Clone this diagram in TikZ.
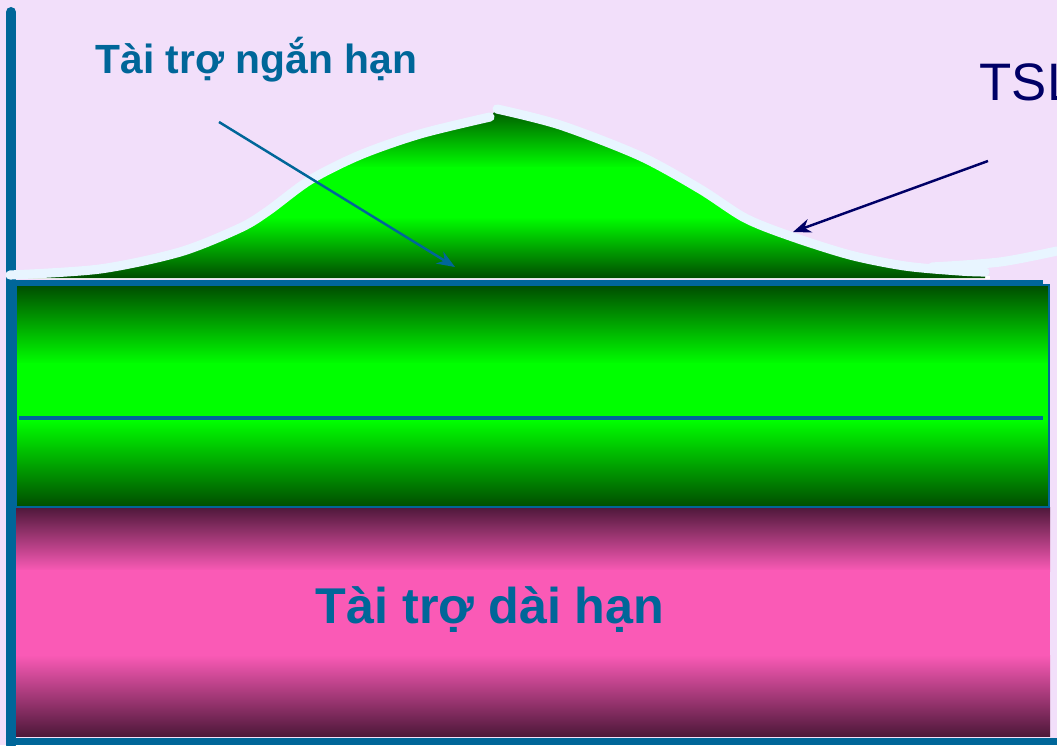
\documentclass[tikz,border=0pt]{standalone}
\usepackage{fontspec}
\setmainfont{Liberation Sans}
\usetikzlibrary{arrows.meta}
\definecolor{nen}{RGB}{242,223,250}
\definecolor{xanhtruc}{RGB}{0,102,153}
\definecolor{xanhtham}{RGB}{0,0,102}
\definecolor{viensang}{RGB}{232,245,255}
\definecolor{lucdam}{RGB}{0,76,0}
\definecolor{lucsang}{RGB}{0,255,0}
\definecolor{hongdam}{RGB}{78,24,58}
\definecolor{hongsang}{RGB}{250,90,182}

\begin{document}
\begin{tikzpicture}[x=0.01cm, y=-0.01cm,
    lucxuong/.style={top color=lucdam, bottom color=lucsang},
    lucle/.style={top color=lucsang, bottom color=lucdam},
    hongxuong/.style={top color=hongdam, bottom color=hongsang},
    hongle/.style={top color=hongsang, bottom color=hongdam},
    duongsang/.style={viensang, line width=2.6pt, line cap=round},
    muiten/.style={-{Stealth[length=1.8mm, width=1.4mm]}, line width=0.7pt}]
    \useasboundingbox[fill=nen] (0,0) rectangle (1057,745);
    % tai tro dai han (hong)
    \shade[hongxuong] (16,507) rectangle (1050,571);
    \fill[hongsang] (16,570) rectangle (1050,656);
    \shade[hongle] (16,655) rectangle (1050,736);
    % khoi xanh la
    \shade[lucxuong] (16,285) rectangle (1049,364);
    \fill[lucsang] (16,363) rectangle (1049,421);
    \shade[lucle] (16,420) rectangle (1049,507);
    \draw[xanhtruc, line width=0.5pt] (16,285) rectangle (1049,507);
    \draw[xanhtruc, line width=0.9pt] (19,418) -- (1043,418);
    \draw[xanhtruc, line width=0.9pt] (16,282) -- (1043,282);
    \draw[white, line width=0.6pt] (16,277.5) -- (990,277.5);
    % truc
    \draw[xanhtruc, line width=2.85pt, line cap=round] (11,12) -- (11,745);
    \draw[xanhtruc, line width=2pt] (6,741.5) -- (1057,741.5);
    % phan tang tam thoi
    \begin{scope}
        \clip plot[smooth] coordinates {(10,275) (100,269) (180,252) (240,228) (268,211) (310,180) (360,155) (420,134) (490,117)}
            -- plot[smooth] coordinates {(497,109) (560,125) (640,156) (700,189) (745,218) (790,236) (850,255) (905,266) (960,271) (985,272)}
            -- (985,278) -- (10,278) -- cycle;
        \shade[lucxuong] (10,105) rectangle (990,168);
        \fill[lucsang] (10,167) rectangle (990,218);
        \shade[lucle] (10,217) rectangle (990,278);
    \end{scope}
    \draw[duongsang] plot[smooth] coordinates {(10,275) (100,269) (180,252) (240,228) (268,211) (310,180) (360,155) (420,134) (490,117)};
    \draw[duongsang] plot[smooth] coordinates {(497,109) (560,125) (640,156) (700,189) (745,218) (790,236) (850,255) (905,266) (960,271) (985,272)};
    \draw[duongsang] plot[smooth] coordinates {(932,267) (1000,262) (1057,251)};
    % nhan
    \node[anchor=base west, inner sep=0, text=xanhtruc, font=\fontsize{11.6}{14}\selectfont\bfseries] (nganhan) at (95,73) {Tài trợ ngắn hạn};
    \node[anchor=base west, inner sep=0, text=xanhtruc, font=\fontsize{14.3}{17}\selectfont\bfseries] (daihan) at (315,623) {Tài trợ dài hạn};
    \node[anchor=base west, inner sep=0, text=xanhtham, font=\fontsize{15}{18}\selectfont] (taisan) at (979,100) {TSLĐ};
    \coordinate (nganhan-goc) at (219,122);
    \coordinate (nganhan-dich) at (455,267);
    \coordinate (taisan-goc) at (988,161);
    \coordinate (taisan-dich) at (793,232);
    \draw[muiten, xanhtruc] (nganhan-goc) -- (nganhan-dich);
    \draw[muiten, xanhtham] (taisan-goc) -- (taisan-dich);
\end{tikzpicture}
\end{document}
